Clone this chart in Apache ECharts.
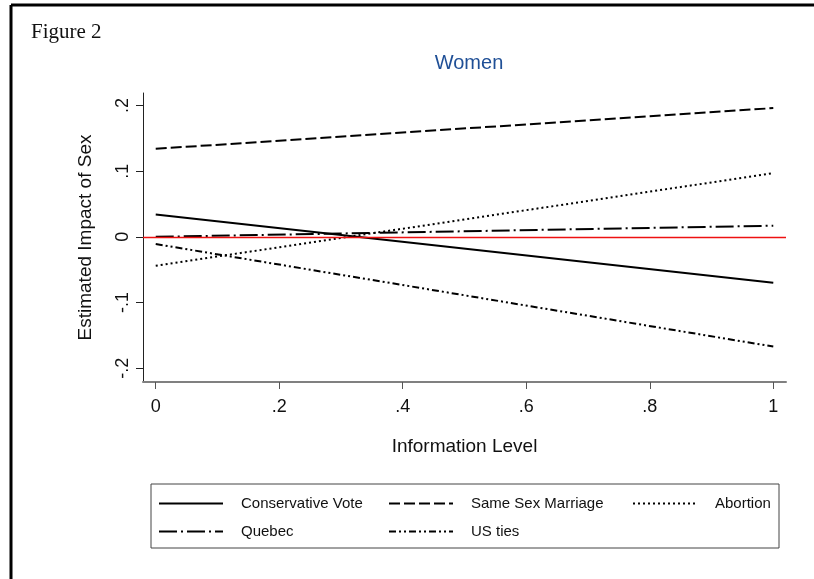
<!DOCTYPE html>
<html>
<head>
<meta charset="utf-8">
<script src="https://cdn.jsdelivr.net/npm/echarts@6/dist/echarts.min.js"></script>
<style>html,body{margin:0;padding:0;background:#fff}#c{width:814px;height:579px}</style>
</head>
<body>
<div id="c"></div>
<script>
// Data (linear predictions at info level 0 and 1)
var infoLevels = [0, 1];
var conservativeVote = [0.034, -0.070];
var sameSexMarriage = [0.134, 0.196];
var abortion = [-0.044, 0.097];
var quebec = [0.000, 0.017];
var usTies = [-0.011, -0.167];
var xTicks = [0, 0.2, 0.4, 0.6, 0.8, 1];
var yTicks = [-0.2, -0.1, 0, 0.1, 0.2];
var seriesNames = ['Conservative Vote', 'Same Sex Marriage', 'Abortion', 'Quebec', 'US ties'];

function pairs(ys){ return infoLevels.map(function(x,i){ return [x, ys[i]]; }); }
function fmt(v){
  if (Math.abs(v) < 1e-9) return '0';
  var s = String(Math.round(v*10)/10);
  return s.replace(/^(-?)0\./, '$1.');
}

var font = 'Liberation Sans, Arial, sans-serif';
var dashes = ['solid', [11,4], [2,3], [18,4,2,4], [7,3,2,3,2,3]];
var values = [conservativeVote, sameSexMarriage, abortion, quebec, usTies];
var xMin = -0.0206, xMax = 1.0206;

var series = [];
seriesNames.forEach(function(n, i){
  series.push({
    name: n, type: 'line', data: pairs(values[i]), symbol: 'none',
    lineStyle: {color: '#000', width: 2, type: dashes[i]},
    itemStyle: {color: '#000'},
    z: 3
  });
});
series.push({
  name: 'zero', type: 'line', data: [], symbol: 'none', z: 2,
  markLine: {
    silent: true, symbol: ['none', 'none'], label: {show: false},
    lineStyle: {color: '#ee1111', width: 1.3, type: 'solid'},
    data: [{yAxis: 0}]
  }
});

var legendPos = [[153,491],[383,491],[627,491],[153,519],[383,519]];
var legends = seriesNames.map(function(n,i){
  return {
    data: [n], left: legendPos[i][0], top: legendPos[i][1], orient: 'horizontal',
    itemWidth: 64, itemHeight: 14, selectedMode: false,
    itemStyle: {opacity: 0},
    textStyle: {fontFamily: font, fontSize: 15, color: '#111', padding: [0,0,0,13]}
  };
});

var chart = echarts.init(document.getElementById('c'), null, {renderer: 'canvas'});
chart.setOption({
  backgroundColor: '#fff',
  animation: false,
  title: {
    text: 'Women', left: 464, top: 48, textAlign: 'center',
    textStyle: {fontFamily: font, fontSize: 20, fontWeight: 'normal', color: '#1f4f96'}
  },
  legend: legends,
  grid: {left: 143, right: 28, top: 93, bottom: 197, containLabel: false},
  xAxis: {
    type: 'value', min: xMin, max: xMax,
    name: 'Information Level', nameLocation: 'middle', nameGap: 55,
    nameTextStyle: {fontFamily: font, fontSize: 19, color: '#111'},
    axisLine: {show: true, onZero: false, lineStyle: {color: '#808080', width: 2}},
    axisTick: {show: true, length: 7, customValues: xTicks, lineStyle: {color: '#555', width: 1}},
    axisLabel: {customValues: xTicks, formatter: fmt, margin: 16, fontFamily: font, fontSize: 18, color: '#111'},
    splitLine: {show: false}
  },
  yAxis: {
    type: 'value', min: -0.221, max: 0.219,
    name: 'Estimated Impact of Sex', nameLocation: 'middle', nameGap: 48, nameRotate: 90,
    nameTextStyle: {fontFamily: font, fontSize: 19, color: '#111'},
    axisLine: {show: true, onZero: false, lineStyle: {color: '#222', width: 1}},
    axisTick: {show: true, length: 7, customValues: yTicks, lineStyle: {color: '#222', width: 1}},
    axisLabel: {customValues: yTicks, formatter: fmt, rotate: 90, margin: 11, fontFamily: font, fontSize: 18, color: '#111'},
    splitLine: {show: false}
  },
  graphic: [
    {type: 'line', shape: {x1: 11, y1: 5, x2: 814, y2: 5}, style: {stroke: '#000', lineWidth: 3}, silent: true},
    {type: 'line', shape: {x1: 11, y1: 5, x2: 11, y2: 579}, style: {stroke: '#000', lineWidth: 3}, silent: true},
    {type: 'text', left: 31, top: 22, style: {text: 'Figure 2', font: '21px "Liberation Serif", "DejaVu Serif", serif', fill: '#111'}, silent: true},
    {type: 'rect', shape: {x: 151, y: 484, width: 628, height: 64}, style: {fill: 'none', stroke: '#444', lineWidth: 1}, silent: true, z: -1}
  ],
  series: series
});
</script>
</body>
</html>
